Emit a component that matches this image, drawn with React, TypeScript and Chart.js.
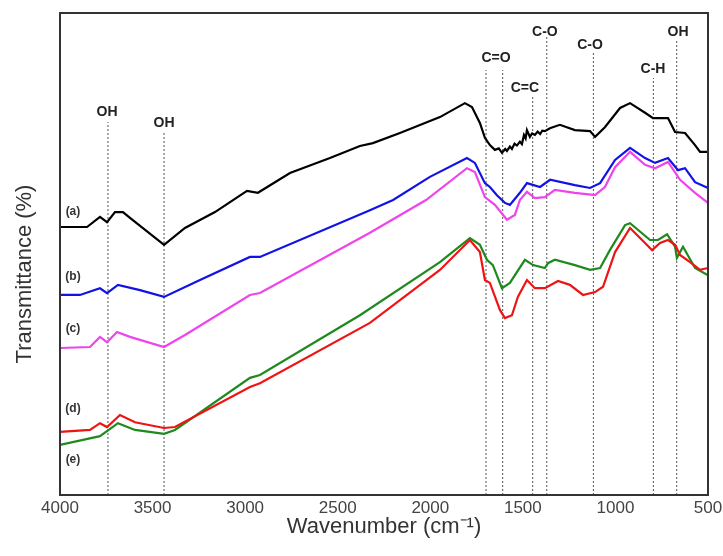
import React, { useEffect, useRef } from "react";
import { Chart, registerables } from "chart.js";

Chart.register(...registerables);

// ---- Data (wavenumber cm-1, relative transmittance) ----
const waveA = [4000, 3854, 3784, 3746, 3703, 3660, 3622, 3438, 3325, 3163, 2990, 2931, 2758, 2542, 2380, 2310, 2164, 1948, 1813, 1775, 1732, 1705, 1678, 1651, 1630, 1613, 1595, 1586, 1570, 1559, 1545, 1532, 1516, 1505, 1494, 1485, 1478, 1462, 1450, 1435, 1420, 1407, 1395, 1381, 1354, 1300, 1219, 1137, 1110, 1057, 975, 921, 840, 797, 716, 678, 624, 570, 543, 500];
const transA = [55.6, 55.6, 57.7, 56.6, 58.7, 58.7, 57.5, 51.9, 55.4, 58.7, 63.1, 62.7, 66.8, 69.9, 72.4, 73.0, 75.1, 78.4, 81.3, 80.5, 77.2, 74.1, 72.6, 71.6, 71.9, 71.0, 71.8, 71.4, 72.3, 71.8, 72.9, 72.5, 73.3, 72.8, 74.7, 74.0, 75.7, 74.3, 75.0, 74.7, 75.4, 74.9, 75.6, 75.5, 76.1, 76.8, 75.7, 75.5, 74.3, 76.3, 80.3, 81.3, 79.3, 78.2, 78.2, 75.3, 75.1, 72.6, 71.2, 71.2];

const waveB = [4000, 3892, 3784, 3746, 3687, 3568, 3438, 3244, 2974, 2920, 2326, 2201, 2002, 1802, 1759, 1705, 1678, 1640, 1597, 1570, 1516, 1478, 1407, 1353, 1219, 1137, 1083, 1002, 921, 840, 786, 716, 662, 624, 570, 500];
const transB = [41.5, 41.5, 42.9, 41.9, 43.6, 42.5, 41.1, 44.6, 49.4, 49.4, 59.1, 61.2, 66.0, 69.9, 68.9, 64.7, 63.9, 62.2, 60.6, 60.2, 62.7, 64.7, 63.9, 65.4, 64.3, 63.7, 64.7, 69.5, 72.0, 69.9, 68.9, 69.9, 67.4, 67.8, 64.9, 63.7];

const waveC = [4000, 3838, 3784, 3746, 3692, 3622, 3438, 3325, 2974, 2920, 2326, 2023, 1802, 1759, 1705, 1651, 1586, 1543, 1516, 1478, 1435, 1381, 1327, 1219, 1110, 1057, 1002, 921, 840, 786, 716, 651, 570, 500];
const transC = [30.5, 30.7, 32.8, 31.7, 33.8, 32.8, 30.7, 33.2, 41.5, 41.9, 54.4, 61.2, 67.8, 67.0, 61.8, 60.2, 57.1, 58.1, 61.2, 62.9, 61.6, 61.8, 63.3, 62.7, 62.2, 63.9, 68.0, 71.2, 68.5, 67.8, 69.1, 65.4, 62.7, 60.6];

const waveD = [4000, 3838, 3784, 3746, 3676, 3595, 3438, 3379, 2974, 2920, 2326, 1948, 1786, 1732, 1705, 1678, 1624, 1597, 1559, 1527, 1478, 1435, 1381, 1310, 1246, 1175, 1110, 1067, 1002, 921, 840, 802, 759, 716, 678, 651, 597, 543, 500];
const transD = [13.1, 13.5, 14.9, 14.1, 16.6, 15.1, 13.9, 14.1, 22.4, 23.2, 35.7, 46.7, 52.9, 50.4, 44.6, 44.0, 38.4, 36.7, 37.3, 41.1, 44.6, 42.9, 42.9, 44.4, 43.6, 41.5, 42.1, 43.2, 50.4, 55.4, 52.3, 50.8, 52.3, 52.9, 51.9, 49.8, 48.3, 46.7, 47.1];

const waveE = [4000, 3784, 3687, 3595, 3438, 3379, 2974, 2920, 2380, 1948, 1786, 1732, 1694, 1662, 1613, 1570, 1489, 1445, 1381, 1364, 1327, 1219, 1137, 1083, 1030, 948, 921, 813, 770, 721, 678, 668, 635, 570, 500];
const transE = [10.4, 12.2, 14.9, 13.5, 12.7, 13.5, 24.3, 24.9, 37.3, 48.3, 53.3, 51.9, 48.8, 47.7, 42.9, 44.0, 48.8, 47.7, 47.1, 48.1, 48.8, 47.7, 46.7, 47.1, 50.8, 56.0, 56.4, 52.9, 52.9, 54.1, 51.5, 49.2, 51.5, 47.1, 45.6];

const seriesNames = ["(a)", "(b)", "(c)", "(d)", "(e)"];
const seriesColors = ["#000000", "#1212e6", "#ee44ee", "#ee1414", "#1e8a1e"];
const seriesLabelWave = [3930, 3930, 3930, 3930, 3930];
const seriesLabelTrans = [58.7, 45.2, 34.6, 18.0, 7.3];

// Band markers
const bandNames = ["OH", "OH", "C=O", "C=O", "C=C", "C-O", "C-O", "C-H", "OH"];
const bandWave = [3741, 3438, 1699, 1609, 1447, 1371, 1119, 795, 669];
const bandLineTop = [77.4, 75.3, 88.2, 88.2, 82.6, 95.0, 91.9, 86.5, 94.4];
const bandLabelShow = [true, true, true, false, true, true, true, true, true];
const bandLabelWave = [3746, 3438, 1645, 1645, 1489, 1381, 1137, 797, 662];
const bandLabelTrans = [79.5, 77.2, 90.7, 90.7, 84.4, 96.1, 93.4, 88.4, 96.1];

const xTicks = [4000, 3500, 3000, 2500, 2000, 1500, 1000, 500];

const X_TITLE = "Wavenumber (cm⁻¹)";
const Y_TITLE = "Transmittance (%)";

const FONT = "'Liberation Sans', Arial, sans-serif";

export default function App() {
  const ref = useRef<HTMLCanvasElement | null>(null);

  useEffect(() => {
    if (!ref.current) return;
    const waves = [waveA, waveB, waveC, waveD, waveE];
    const trans = [transA, transB, transC, transD, transE];

    const curveSets = waves.map((w, i) => ({
      label: seriesNames[i],
      data: w.map((x, j) => ({ x, y: trans[i][j] })),
      borderColor: seriesColors[i],
      borderWidth: 2.2,
      pointRadius: 0,
      fill: false,
      tension: 0,
    }));

    const bandSets = bandWave.map((w, i) => ({
      label: "band" + i,
      data: [
        { x: w, y: 0 },
        { x: w, y: bandLineTop[i] },
      ],
      borderColor: "#555555",
      borderWidth: 1,
      borderDash: [2, 2],
      pointRadius: 0,
      fill: false,
    }));

    const overlay = {
      id: "overlay",
      afterDatasetsDraw(chart: any) {
        const { ctx, chartArea, scales } = chart;
        const xs = scales.x;
        const ys = scales.y;
        ctx.save();
        // frame
        ctx.strokeStyle = "#333333";
        ctx.lineWidth = 2;
        ctx.strokeRect(chartArea.left, chartArea.top, chartArea.right - chartArea.left, chartArea.bottom - chartArea.top);
        // band labels
        ctx.fillStyle = "#222222";
        ctx.font = "bold 14px " + FONT;
        ctx.textAlign = "center";
        ctx.textBaseline = "middle";
        bandNames.forEach((n, i) => {
          if (!bandLabelShow[i]) return;
          ctx.fillText(n, xs.getPixelForValue(bandLabelWave[i]), ys.getPixelForValue(bandLabelTrans[i]));
        });
        // curve labels
        ctx.font = "bold 12px " + FONT;
        ctx.fillStyle = "#333333";
        seriesNames.forEach((n, i) => {
          ctx.fillText(n, xs.getPixelForValue(seriesLabelWave[i]), ys.getPixelForValue(seriesLabelTrans[i]));
        });
        // y title
        ctx.translate(25, 274);
        ctx.rotate(-Math.PI / 2);
        ctx.font = "22px " + FONT;
        ctx.fillStyle = "#333333";
        ctx.fillText(Y_TITLE, 0, 0);
        ctx.restore();
      },
    };

    const chart = new Chart(ref.current, {
      type: "line",
      data: { datasets: [...curveSets, ...bandSets] as any },
      options: {
        animation: false,
        responsive: false,
        parsing: false as any,
        layout: { padding: { top: 13, right: 15, left: 0, bottom: 0 } },
        plugins: {
          legend: { display: false },
          tooltip: { enabled: false },
        },
        scales: {
          x: {
            type: "linear",
            reverse: true,
            min: 500,
            max: 4000,
            afterFit: (s: any) => {
              s.height = 61;
            },
            afterBuildTicks: (s: any) => {
              s.ticks = xTicks.map((v) => ({ value: v }));
            },
            grid: { display: false },
            border: { display: false },
            ticks: {
              color: "#444444",
              font: { family: FONT, size: 17 },
              padding: -5,
              maxRotation: 0,
              autoSkip: false,
              callback: (v: any) => String(v),
            },
            title: {
              display: true,
              text: X_TITLE,
              color: "#333333",
              font: { family: FONT, size: 22 },
              padding: { top: 0, bottom: 16 },
            },
          },
          y: {
            type: "linear",
            min: 0,
            max: 100,
            afterFit: (s: any) => {
              s.width = 60;
            },
            grid: { display: false },
            border: { display: false },
            ticks: { display: false },
            title: { display: false },
          },
        },
      },
      plugins: [overlay],
    });
    return () => chart.destroy();
  }, []);

  return (
    <div style={{ position: "absolute", left: 0, top: 0, width: 723, height: 556, background: "#fff" }}>
      <canvas ref={ref} width={723} height={556} />
    </div>
  );
}
